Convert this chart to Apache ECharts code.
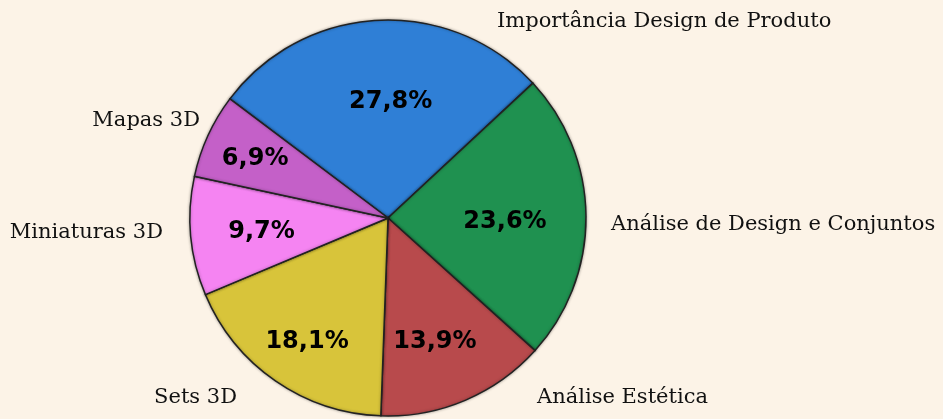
<!DOCTYPE html>
<html>
<head>
<meta charset="utf-8">
<script src="https://cdn.jsdelivr.net/npm/echarts@6/dist/echarts.min.js"></script>
<style>
  html, body { margin: 0; padding: 0; background: #fcf3e7; }
  #chart { width: 943px; height: 419px; }
</style>
</head>
<body>
<div id="chart"></div>
<script>
const categories = [
  'Importância Design de Produto',
  'Análise de Design e Conjuntos',
  'Análise Estética',
  'Sets 3D',
  'Miniaturas 3D',
  'Mapas 3D',
];
const shares = [27.8, 23.6, 13.9, 18.1, 9.7, 6.9];
const sliceColors = ['#2f7fd6', '#1f9150', '#b84a4c', '#d8c43a', '#f584f2', '#c460c8'];

// where each category name sits (x, middle y, text align)
const nameSpots = [
  [497, 22, 'left'],
  [611, 225, 'left'],
  [537, 398, 'left'],
  [237, 398, 'right'],
  [163, 233, 'right'],
  [200, 121, 'right'],
];
// small nudges of the percentage labels, like the hand drawn original
const pctNudge = [[9, 7], [-6, 5], [-1, 10], [-11, 23], [-4, 2], [-21, -8]];

const chart = echarts.init(document.getElementById('chart'));
const center = [388, 218];
const data = categories.map((name, i) => ({
  name,
  value: shares[i],
  itemStyle: { color: sliceColors[i] },
}));

chart.setOption({
  backgroundColor: '#fcf3e7',
  animation: false,
  series: [
    {
      type: 'pie',
      center,
      radius: [0, 198],
      startAngle: 143,
      clockwise: true,
      silent: true,
      avoidLabelOverlap: false,
      data,
      itemStyle: {
        borderColor: '#222',
        borderWidth: 1.5,
        shadowColor: 'rgba(0,0,0,0.35)',
        shadowBlur: 3,
      },
      label: {
        show: true,
        position: 'outside',
        formatter: '{b}',
        fontFamily: 'DejaVu Serif',
        fontSize: 21,
        color: '#111',
      },
      labelLine: { show: false },
      labelLayout: p => {
        const s = nameSpots[p.dataIndex];
        return { x: s[0], y: s[1], align: s[2], verticalAlign: 'middle' };
      },
    },
    {
      // invisible ring used only to place the percentages further out
      type: 'pie',
      center,
      radius: [0, 240],
      startAngle: 143,
      clockwise: true,
      silent: true,
      data: data.map(d => ({ name: d.name, value: d.value })),
      itemStyle: { color: 'rgba(0,0,0,0)' },
      label: {
        show: true,
        position: 'inside',
        formatter: p => p.value.toFixed(1).replace('.', ',') + '%',
        fontFamily: 'DejaVu Sans',
        fontWeight: 'bold',
        fontSize: 24,
        color: '#000',
      },
      labelLine: { show: false },
      labelLayout: p => {
        const n = pctNudge[p.dataIndex];
        return { dx: n[0], dy: n[1] };
      },
    },
  ],
});
</script>
</body>
</html>
